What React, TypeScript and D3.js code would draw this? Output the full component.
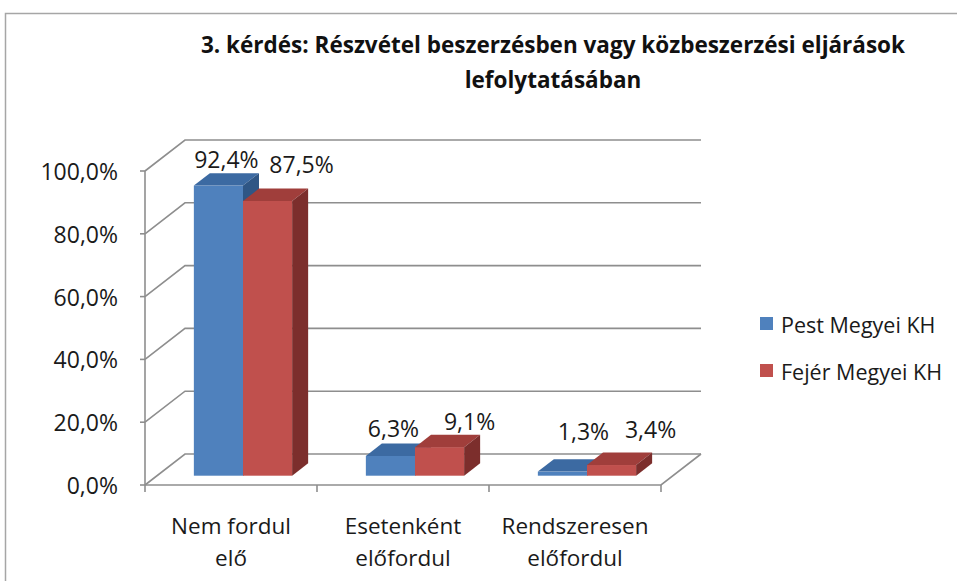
import React from 'react';
import * as d3 from 'd3';

const categories = ['Nem fordul elő', 'Esetenként előfordul', 'Rendszeresen előfordul'];
const categoryLines = [['Nem fordul', 'elő'], ['Esetenként', 'előfordul'], ['Rendszeresen', 'előfordul']];
const seriesNames = ['Pest Megyei KH', 'Fejér Megyei KH'];
const pestValues = [0.924, 0.063, 0.013];
const fejerValues = [0.875, 0.091, 0.034];
const yTicks = [0, 0.2, 0.4, 0.6, 0.8, 1.0];
const titleLines = ['3. kérdés: Részvétel beszerzésben vagy közbeszerzési eljárások', 'lefolytatásában'];

// label nudges (Excel moved some labels by hand / to avoid overlap)
const labelNudge = [
  [[0, 0], [26, -11]],
  [[-5, -2], [22, 0]],
  [[13, -14], [31, -10]],
];

const colors = [
  { front: '#4F81BD', top: '#3C6AA2', side: '#2F5685' },
  { front: '#C0504D', top: '#A03E3B', side: '#7C2E2C' },
];

const FONT = "'Open Sans', 'Liberation Sans', sans-serif";
const GRID = '#8e8e8e';

export default function App() {
  const W = 957, H = 581;
  const x0 = 145, x1 = 661;
  const yBottom = 485, yTop = 171;
  const depth = { dx: 40, dy: -31 };
  const barDepthStart = 0.3, barDepthEnd = 0.7;

  const x = d3.scaleBand<string>().domain(categories).range([x0, x1]).paddingInner(0).paddingOuter(0);
  const xs = d3.scaleBand<string>().domain(seriesNames).range([0, x.bandwidth()]).paddingInner(0).paddingOuter(0.75);
  const y = d3.scaleLinear().domain([0, 1]).range([yBottom, yTop]);
  const fmt = (v: number) => (v * 100).toFixed(1).replace('.', ',') + '%';

  const values = [pestValues, fejerValues];
  const bo = { dx: depth.dx * barDepthStart, dy: depth.dy * barDepthStart };
  const bd = { dx: depth.dx * (barDepthEnd - barDepthStart), dy: depth.dy * (barDepthEnd - barDepthStart) };

  const pts = (p: number[][]) => p.map(q => q.join(',')).join(' ');

  const bars: JSX.Element[] = [];
  const labels: JSX.Element[] = [];
  categories.forEach((c, ci) => {
    seriesNames.forEach((s, si) => {
      const v = values[si][ci];
      const left = (x(c) as number) + (xs(s) as number) + bo.dx;
      const right = left + xs.bandwidth();
      const bot = y(0) + bo.dy;
      const top = y(v) + bo.dy;
      const col = colors[si];
      bars.push(
        <g key={`b${ci}-${si}`}>
          <rect x={left} y={top} width={right - left} height={bot - top} fill={col.front} />
          <polygon points={pts([[left, top], [left + bd.dx, top + bd.dy], [right + bd.dx, top + bd.dy], [right, top]])} fill={col.top} />
          <polygon points={pts([[right, top], [right + bd.dx, top + bd.dy], [right + bd.dx, bot + bd.dy], [right, bot]])} fill={col.side} />
        </g>
      );
      const [nx, ny] = labelNudge[ci][si];
      labels.push(
        <text key={`l${ci}-${si}`} x={(left + right) / 2 + bd.dx / 2 + nx} y={top + bd.dy - 14 + ny}
          textAnchor="middle" dominantBaseline="central" fontSize={23} fontFamily={FONT} fill="#1a1a1a">
          {fmt(v)}
        </text>
      );
    });
  });

  return (
    <svg width={W} height={H} style={{ position: 'absolute', left: 0, top: 0, background: '#fff' }}>
      <rect x={5.5} y={13.5} width={1000} height={700} fill="#fff" stroke="#a6a6a6" strokeWidth={1.5} />

      {titleLines.map((t, i) => (
        <text key={t} x={553} y={53 + i * 35} textAnchor="middle" fontSize={22.5} fontWeight="bold" fontFamily={FONT} fill="#111">{t}</text>
      ))}

      {/* back wall gridlines and left wall diagonals */}
      {yTicks.map(t => (
        <g key={`g${t}`} stroke={GRID} strokeWidth={1.6} fill="none">
          <polyline points={pts([[x0, y(t)], [x0 + depth.dx, y(t) + depth.dy], [x1 + depth.dx, y(t) + depth.dy]])} />
          <line x1={x0 - 5} x2={x0} y1={y(t)} y2={y(t)} />
        </g>
      ))}
      {/* floor */}
      <polyline points={pts([[x0, yBottom], [x1, yBottom], [x1 + depth.dx, yBottom + depth.dy]])} stroke={GRID} strokeWidth={1.6} fill="none" />
      <line x1={x0} x2={x0} y1={yTop} y2={yBottom} stroke={GRID} strokeWidth={1.6} />
      {[...categories.map(c => x(c) as number), x1].map((tx, i) => (
        <line key={`xt${i}`} x1={tx} x2={tx} y1={yBottom} y2={yBottom + 7} stroke={GRID} strokeWidth={1.6} />
      ))}

      {bars}
      {labels}

      {yTicks.map(t => (
        <text key={`yl${t}`} x={118} y={y(t)} textAnchor="end" dominantBaseline="central" fontSize={23} fontFamily={FONT} fill="#1a1a1a">{fmt(t)}</text>
      ))}

      {categories.map((c, ci) => (
        <text key={`xl${ci}`} textAnchor="middle" fontSize={22.5} fontFamily={FONT} fill="#1a1a1a">
          {categoryLines[ci].map((ln, li) => (
            <tspan key={li} x={(x(c) as number) + x.bandwidth() / 2} y={525 + li * 32} dominantBaseline="central">{ln}</tspan>
          ))}
        </text>
      ))}

      {seriesNames.map((s, si) => (
        <g key={`lg${si}`}>
          <rect x={760} y={317 + si * 47} width={13} height={13} fill={colors[si].front} />
          <text x={781} y={324 + si * 47} dominantBaseline="central" fontSize={21.5} fontFamily={FONT} fill="#1a1a1a">{s}</text>
        </g>
      ))}
    </svg>
  );
}
